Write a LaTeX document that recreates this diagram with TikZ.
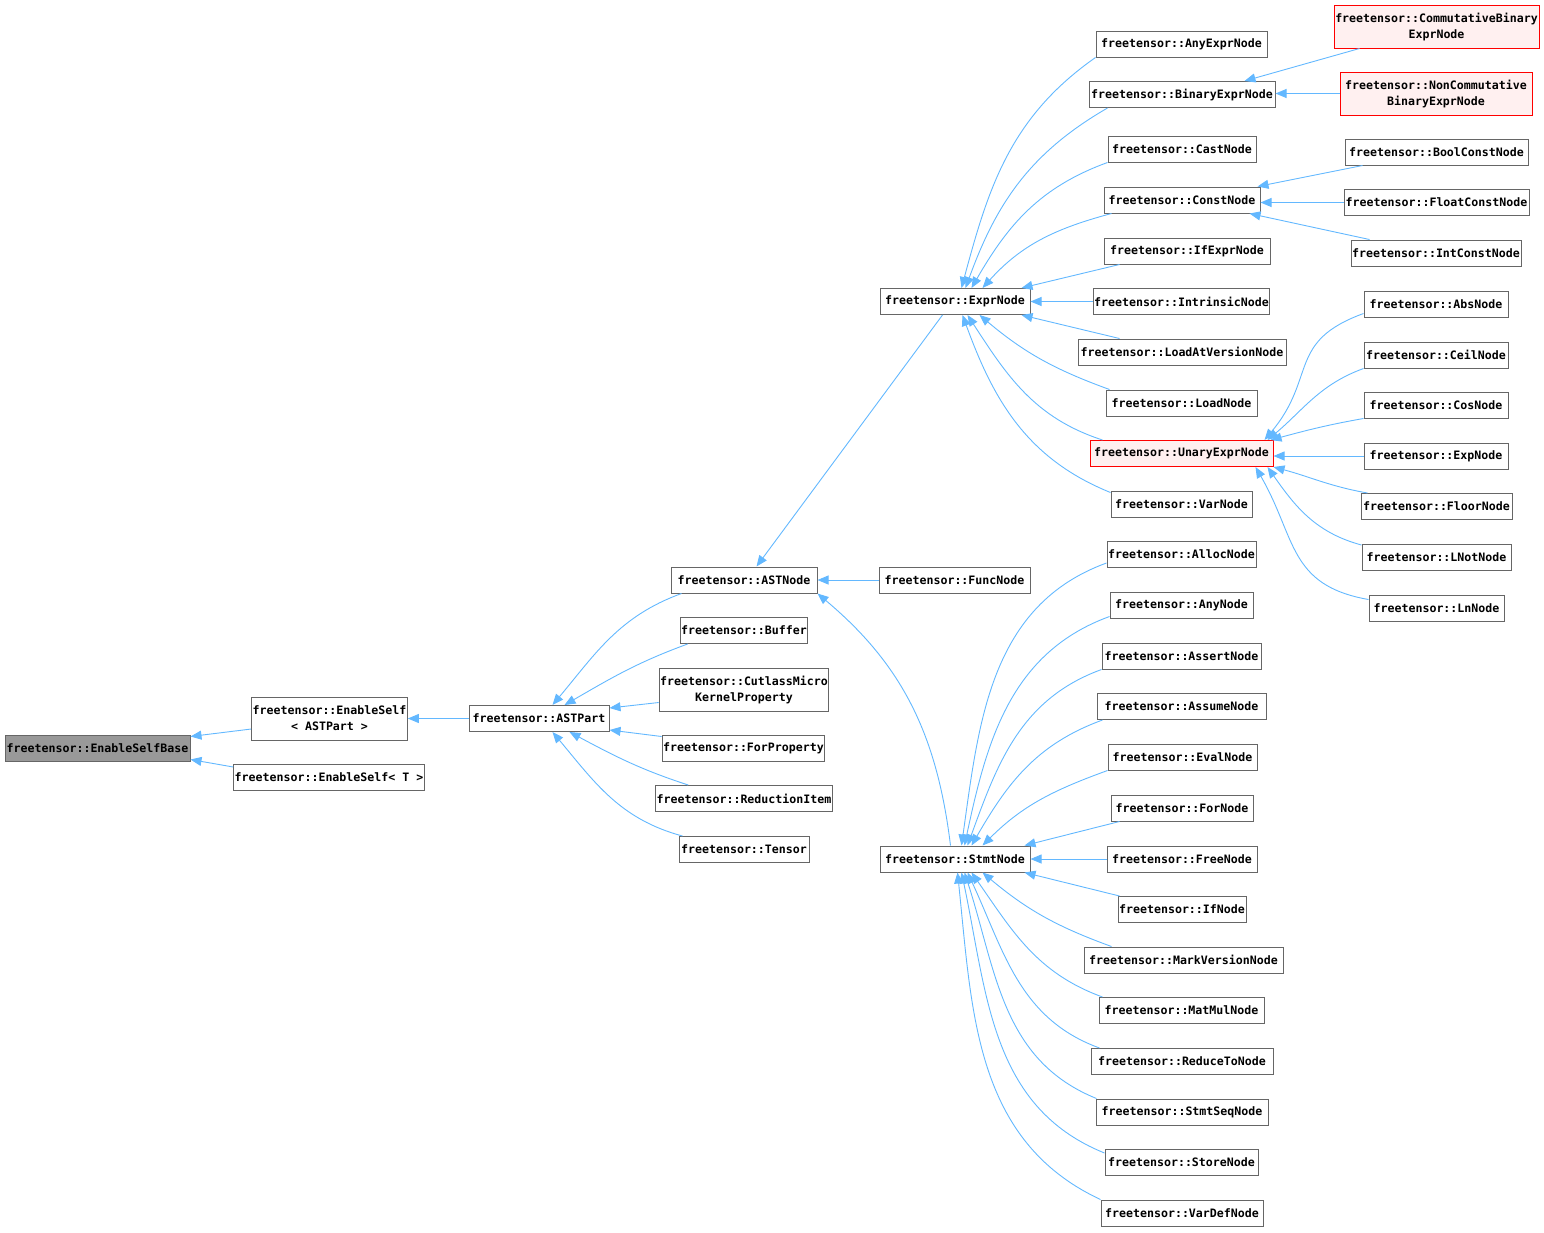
\documentclass[tikz,border=0pt]{standalone}
\usepackage{fontspec}
\setmonofont{DejaVu Sans Mono}
\usepackage{tikz}
\usetikzlibrary{arrows.meta}
\definecolor{EdgeBlue}{RGB}{99,184,255}
\definecolor{BoxGrey}{RGB}{102,102,102}
\definecolor{BaseGrey}{RGB}{153,153,153}
\definecolor{HiRed}{RGB}{255,0,0}
\definecolor{HiFill}{RGB}{255,240,240}
\newcommand{\clsfont}{\ttfamily\bfseries\fontsize{11.6}{16}\selectfont}
\tikzset{
  cls/.style={draw=BoxGrey, fill=white, line width=1pt, inner xsep=1pt, inner ysep=0pt,
    minimum height=26pt, align=center, font=\clsfont},
  twoline/.style={minimum height=43pt},
  hicls/.style={cls, draw=HiRed, fill=HiFill},
  basecls/.style={cls, fill=BaseGrey},
  inh/.style={-{Triangle[length=11pt,width=9pt]}, EdgeBlue, line width=0.9pt},
}
\begin{document}
\begin{tikzpicture}[x=1pt, y=1pt]
  \useasboundingbox (0,0) rectangle (1544,-1232);
  % left part
  \node[basecls, minimum width=185pt] (base) at (97.5,-748) {freetensor::EnableSelfBase};
  \node[cls, twoline, minimum width=153pt] (esast) at (329.5,-718.5) {freetensor::EnableSelf\\< ASTPart >};
  \node[cls, minimum width=184pt] (est) at (329,-777.5) {freetensor::EnableSelf< T >};
  \node[cls, minimum width=140pt] (astpart) at (539,-718.5) {freetensor::ASTPart};
  \node[cls, minimum width=146pt] (astnode) at (744,-580) {freetensor::ASTNode};
  \node[cls, minimum width=124pt] (buffer) at (744,-630.5) {freetensor::Buffer};
  \node[cls, twoline, minimum width=166pt] (cutlass) at (744,-689.5) {freetensor::CutlassMicro\\KernelProperty};
  \node[cls, minimum width=159pt] (forprop) at (743.5,-748) {freetensor::ForProperty};
  \node[cls, minimum width=174pt] (reduction) at (744,-798.5) {freetensor::ReductionItem};
  \node[cls, minimum width=130pt] (tensor) at (744,-849.5) {freetensor::Tensor};
  \node[cls, minimum width=151pt] (func) at (954.5,-580) {freetensor::FuncNode};
  \node[cls, minimum width=150pt] (expr) at (955,-301.5) {freetensor::ExprNode};
  \node[cls, minimum width=150pt] (stmt) at (955,-859) {freetensor::StmtNode};
  % expressions
  \node[cls, minimum width=171pt] (anyexpr) at (1181.5,-44) {freetensor::AnyExprNode};
  \node[cls, minimum width=186pt] (binary) at (1182,-94.5) {freetensor::BinaryExprNode};
  \node[cls, minimum width=148pt] (cast) at (1182,-149) {freetensor::CastNode};
  \node[cls, minimum width=156pt] (const) at (1182,-200) {freetensor::ConstNode};
  \node[cls, minimum width=166pt] (ifexpr) at (1187,-251) {freetensor::IfExprNode};
  \node[cls, minimum width=167pt] (intrinsic) at (1181.5,-301.5) {freetensor::IntrinsicNode};
  \node[cls, minimum width=208pt] (loadatv) at (1182,-352) {freetensor::LoadAtVersionNode};
  \node[cls, minimum width=151pt] (load) at (1181.5,-403) {freetensor::LoadNode};
  \node[hicls, minimum width=183pt] (unary) at (1181.5,-453.5) {freetensor::UnaryExprNode};
  \node[cls, minimum width=141pt] (var) at (1181.5,-504) {freetensor::VarNode};
  \node[hicls, twoline, minimum width=205pt] (commut) at (1436.5,-26.5) {freetensor::CommutativeBinary\\ExprNode};
  \node[hicls, twoline, minimum width=192pt] (noncomm) at (1436,-93.5) {freetensor::NonCommutative\\BinaryExprNode};
  \node[cls, minimum width=183pt] (boolc) at (1436.5,-152) {freetensor::BoolConstNode};
  \node[cls, minimum width=185pt] (floatc) at (1436.5,-202.5) {freetensor::FloatConstNode};
  \node[cls, minimum width=170pt] (intc) at (1436,-253) {freetensor::IntConstNode};
  \node[cls, minimum width=144pt] (abs) at (1436,-304) {freetensor::AbsNode};
  \node[cls, minimum width=144pt] (ceil) at (1436,-355) {freetensor::CeilNode};
  \node[cls, minimum width=144pt] (cos) at (1436,-405) {freetensor::CosNode};
  \node[cls, minimum width=144pt] (exp) at (1436,-456) {freetensor::ExpNode};
  \node[cls, minimum width=151pt] (floor) at (1436.5,-506.5) {freetensor::FloorNode};
  \node[cls, minimum width=149pt] (lnot) at (1436.5,-557.5) {freetensor::LNotNode};
  \node[cls, minimum width=135pt] (ln) at (1436.5,-608) {freetensor::LnNode};
  % statements
  \node[cls, minimum width=149pt] (alloc) at (1181.5,-554.5) {freetensor::AllocNode};
  \node[cls, minimum width=143pt] (any) at (1181.5,-605) {freetensor::AnyNode};
  \node[cls, minimum width=159pt] (assert) at (1181.5,-656) {freetensor::AssertNode};
  \node[cls, minimum width=169pt] (assume) at (1181.5,-706.5) {freetensor::AssumeNode};
  \node[cls, minimum width=149pt] (eval) at (1182.5,-757) {freetensor::EvalNode};
  \node[cls, minimum width=142pt] (for) at (1182,-808) {freetensor::ForNode};
  \node[cls, minimum width=150pt] (free) at (1182,-859) {freetensor::FreeNode};
  \node[cls, minimum width=128pt] (if) at (1182,-909.5) {freetensor::IfNode};
  \node[cls, minimum width=199pt] (markv) at (1183.5,-960) {freetensor::MarkVersionNode};
  \node[cls, minimum width=165pt] (matmul) at (1181.5,-1010.5) {freetensor::MatMulNode};
  \node[cls, minimum width=182pt] (reduceto) at (1182,-1061.5) {freetensor::ReduceToNode};
  \node[cls, minimum width=172pt] (stmtseq) at (1182,-1112) {freetensor::StmtSeqNode};
  \node[cls, minimum width=153pt] (store) at (1181.5,-1162.5) {freetensor::StoreNode};
  \node[cls, minimum width=162pt] (vardef) at (1182,-1213) {freetensor::VarDefNode};
  % inheritance edges
  \draw[inh] (astpart.west) -- (esast.east);
  \draw[inh] ([yshift=-10.5pt]esast.west) -- ([yshift=-2pt]base.north east);
  \draw[inh] ([yshift=10.5pt]est.west) -- ([yshift=2pt]base.south east);
  \draw[inh] ([xshift=11pt]astnode.south west) to[out=200, in=50] ([xshift=84pt]astpart.north west);
  \draw[inh] ([xshift=8pt]buffer.south west) to[out=200, in=30] ([xshift=96pt]astpart.north west);
  \draw[inh] ([yshift=9pt]cutlass.south west) -- ([yshift=-3pt]astpart.north east);
  \draw[inh] ([yshift=-2pt]forprop.north west) -- ([yshift=2pt]astpart.south east);
  \draw[inh] ([xshift=33pt]reduction.north west) to[out=162, in=-28] ([xshift=101pt]astpart.south west);
  \draw[inh] ([xshift=4pt]tensor.north west) to[out=165, in=-50] ([xshift=84pt]astpart.south west);
  \draw[inh] ([xshift=63pt]expr.south west) -- ([xshift=86pt]astnode.north west);
  \draw[inh] (func.west) -- (astnode.east);
  \draw[inh] ([xshift=71pt]stmt.north west) to[out=97, in=-40] (astnode.south east);
  \draw[inh] (anyexpr.south west) to[out=215, in=75] ([xshift=82pt]expr.north west);
  \draw[inh] ([xshift=19pt]binary.south west) to[out=210, in=70] ([xshift=86pt]expr.north west);
  \draw[inh] (cast.south west) to[out=200, in=60] ([xshift=92pt]expr.north west);
  \draw[inh] ([xshift=8pt]const.south west) to[out=195, in=48] ([xshift=103pt]expr.north west);
  \draw[inh] ([xshift=16pt]ifexpr.south west) -- ([xshift=142pt]expr.north west);
  \draw[inh] (intrinsic.west) -- (expr.east);
  \draw[inh] ([xshift=42pt]loadatv.north west) -- ([xshift=142pt]expr.south west);
  \draw[inh] ([xshift=4pt]load.north west) to[out=160, in=-40] ([xshift=100pt]expr.south west);
  \draw[inh] ([xshift=13pt]unary.north west) to[out=162, in=-57] ([xshift=88pt]expr.south west);
  \draw[inh] ([yshift=-2pt]var.north west) to[out=158, in=-70] ([xshift=83pt]expr.south west);
  \draw[inh] ([xshift=26pt]commut.south west) -- ([xshift=156pt]binary.north west);
  \draw[inh] (noncomm.west) -- (noncomm.west -| binary.east);
  \draw[inh] ([xshift=18pt]boolc.south west) -- ([xshift=154pt]const.north west);
  \draw[inh] (floatc.west) -- (floatc.west -| const.east);
  \draw[inh] ([xshift=19pt]intc.north west) -- ([xshift=146pt]const.south west);
  \draw[inh] ([yshift=4pt]abs.south west) to[out=200, in=50, looseness=1.3] ([xshift=175pt]unary.north west);
  \draw[inh] (ceil.south west) to[out=200, in=40] ([xshift=178pt]unary.north west);
  \draw[inh] (cos.south west) to[out=190, in=15] ([xshift=181pt]unary.north west);
  \draw[inh] (exp.west) -- (exp.west -| unary.east);
  \draw[inh] ([xshift=7pt]floor.north west) to[out=170, in=-15] (unary.south east);
  \draw[inh] ([yshift=-1pt]lnot.north west) to[out=165, in=-55] ([xshift=-6pt]unary.south east);
  \draw[inh] ([yshift=-5pt]ln.north west) to[out=170, in=-60, looseness=1.2] ([xshift=-18pt]unary.south east);
  \draw[inh] ([yshift=5pt]alloc.south west) to[out=200, in=82] ([xshift=82pt]stmt.north west);
  \draw[inh] ([yshift=2pt]any.south west) to[out=200, in=78] ([xshift=85pt]stmt.north west);
  \draw[inh] (assert.south west) to[out=200, in=70] ([xshift=88pt]stmt.north west);
  \draw[inh] ([xshift=6pt]assume.south west) to[out=200, in=60] ([xshift=92pt]stmt.north west);
  \draw[inh] (eval.south west) to[out=200, in=45] ([xshift=103pt]stmt.north west);
  \draw[inh] ([xshift=9pt]for.south west) -- ([xshift=145pt]stmt.north west);
  \draw[inh] (free.west) -- (stmt.east);
  \draw[inh] ([xshift=2pt]if.north west) -- ([xshift=145pt]stmt.south west);
  \draw[inh] ([xshift=28pt]markv.north west) to[out=160, in=-40] ([xshift=103pt]stmt.south west);
  \draw[inh] ([xshift=4pt]matmul.north west) to[out=160, in=-55] ([xshift=92pt]stmt.south west);
  \draw[inh] ([xshift=9pt]reduceto.north west) to[out=160, in=-65] ([xshift=88pt]stmt.south west);
  \draw[inh] ([xshift=1pt]stmtseq.north west) to[out=158, in=-72] ([xshift=85pt]stmt.south west);
  \draw[inh] ([yshift=-4pt]store.north west) to[out=158, in=-78] ([xshift=82pt]stmt.south west);
  \draw[inh] (vardef.north west) to[out=155, in=-84] ([xshift=78pt]stmt.south west);
\end{tikzpicture}
\end{document}
